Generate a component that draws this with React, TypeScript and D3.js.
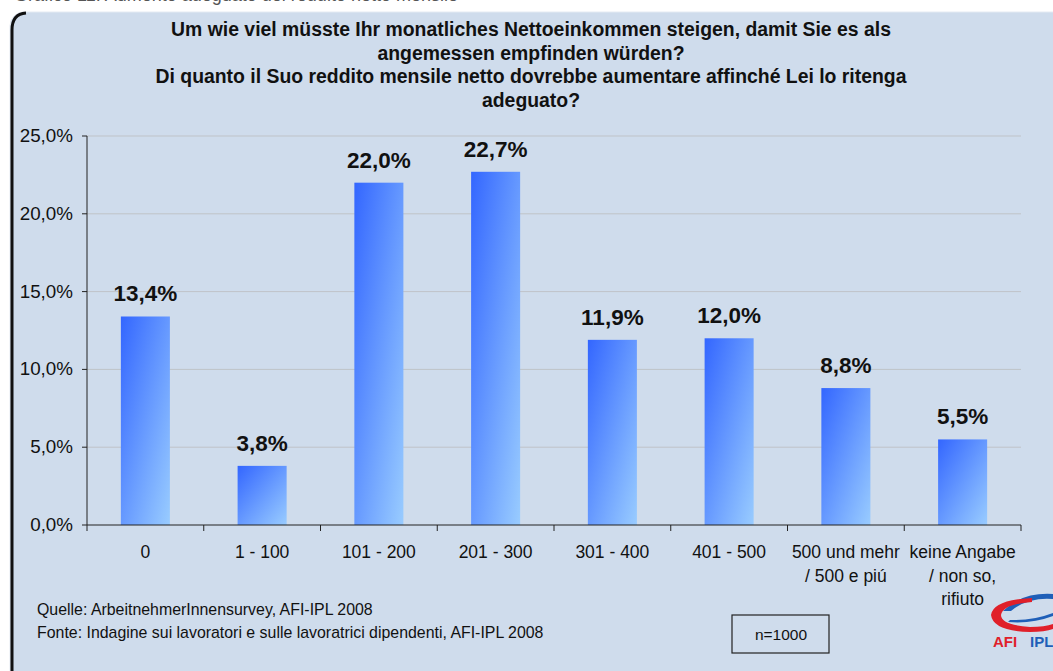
import React from "react";
import * as d3 from "d3";

// chart values
const categories = [
  ["0"],
  ["1 - 100"],
  ["101 - 200"],
  ["201 - 300"],
  ["301 - 400"],
  ["401 - 500"],
  ["500 und mehr", "/ 500 e piú"],
  ["keine Angabe", "/ non so,", "rifiuto"],
];
const values = [13.4, 3.8, 22.0, 22.7, 11.9, 12.0, 8.8, 5.5];
const yTicks = [0, 5, 10, 15, 20, 25];

const titleLines = [
  "Um wie viel müsste Ihr monatliches Nettoeinkommen steigen, damit Sie es als",
  "angemessen empfinden würden?",
  "Di quanto il Suo reddito mensile netto dovrebbe aumentare affinché Lei lo ritenga",
  "adeguato?",
];
const sourceLines = [
  "Quelle: ArbeitnehmerInnensurvey, AFI-IPL 2008",
  "Fonte: Indagine sui lavoratori e sulle lavoratrici dipendenti, AFI-IPL 2008",
];
const sampleNote = "n=1000";

const fmt = (v: number) => v.toFixed(1).replace(".", ",") + "%";

export default function App() {
  const W = 1053;
  const H = 671;
  const left = 87;
  const right = 1021;
  const top = 136;
  const bottom = 525;

  const x = d3
    .scaleBand<number>()
    .domain(d3.range(categories.length))
    .range([left, right])
    .paddingInner(0.58)
    .paddingOuter(0.29);
  const y = d3.scaleLinear().domain([0, 25]).range([bottom, top]);
  const step = (right - left) / categories.length;

  const font = "Arial, 'Liberation Sans', sans-serif";

  return (
    <div style={{ position: "absolute", left: 0, top: 0, width: W, height: H, overflow: "hidden" }}>
      <svg width={W} height={H} style={{ display: "block", fontFamily: font }}>
        <defs>
          <linearGradient id="barGrad" x1="0" y1="0" x2="1" y2="1">
            <stop offset="0" stopColor="#3366ff" />
            <stop offset="1" stopColor="#99ccff" />
          </linearGradient>
        </defs>
        <rect width={W} height={H} fill="#ffffff" />
        {/* cropped heading from the page above */}
        <text x={14} y={1} fontSize={18} fill="#555">
          Grafico 11: Aumento adeguato del reddito netto mensile
        </text>
        {/* panel */}
        <rect x={10} y={12} width={W + 20} height={H + 20} rx={14} fill="#cfdcec" stroke="#e4eaf2" strokeWidth={1} />
        <path d="M 12 671 L 12 30 Q 12 14 26 13" fill="none" stroke="#111" strokeWidth={3} />

        {/* title */}
        {titleLines.map((t, i) => (
          <text key={i} x={531} y={36 + i * 23.5} textAnchor="middle" fontSize={19.4} fontWeight="bold" fill="#111">
            {t}
          </text>
        ))}

        {/* grid and y axis */}
        {yTicks.map((t) => (
          <g key={t}>
            {t > 0 && <line x1={left} x2={right} y1={y(t)} y2={y(t)} stroke="#bfc3c8" strokeWidth={1} />}
            <line x1={left - 5} x2={left} y1={y(t)} y2={y(t)} stroke="#222" />
            <text x={73} y={y(t) + 6} textAnchor="end" fontSize={18.8} fill="#111">
              {fmt(t)}
            </text>
          </g>
        ))}
        <line x1={left} x2={left} y1={top} y2={bottom} stroke="#222" />

        {/* bars */}
        {values.map((v, i) => (
          <g key={i}>
            <rect x={x(i)} y={y(v)} width={x.bandwidth()} height={bottom - y(v)} fill="url(#barGrad)" />
            <text
              x={(x(i) as number) + x.bandwidth() / 2}
              y={y(v) - 15}
              textAnchor="middle"
              fontSize={22.5}
              fontWeight="bold"
              fill="#111"
            >
              {fmt(v)}
            </text>
          </g>
        ))}

        {/* x axis */}
        <line x1={left} x2={right} y1={bottom} y2={bottom} stroke="#222" />
        {d3.range(categories.length + 1).map((i) => (
          <line key={i} x1={left + i * step} x2={left + i * step} y1={bottom} y2={bottom + 6} stroke="#222" />
        ))}
        {categories.map((lines, i) => (
          <text key={i} textAnchor="middle" fontSize={17.5} fill="#111">
            {lines.map((l, j) => (
              <tspan key={j} x={(x(i) as number) + x.bandwidth() / 2} y={558 + j * 23.5}>
                {l}
              </tspan>
            ))}
          </text>
        ))}

        {/* source */}
        {sourceLines.map((s, i) => (
          <text key={i} x={37} y={615 + i * 23} fontSize={15.9} fill="#111">
            {s}
          </text>
        ))}

        {/* sample box */}
        <rect x={732} y={615} width={97} height={38} fill="none" stroke="#222" strokeWidth={1.2} />
        <text x={781} y={640} textAnchor="middle" fontSize={15.5} fill="#111">
          {sampleNote}
        </text>

        {/* logo */}
        <g>
          <path d="M 1003 611 Q 1022 592 1053 594 L 1053 599 Q 1028 597 1011 611 Z" fill="#1f5fb8" />
          <path d="M 1032 598 Q 993 600 991 615 Q 993 631 1030 632 Q 1045 632 1053 629 L 1053 624 Q 1045 627 1030 627 Q 1001 625 1001 615 Q 1003 604 1032 602 Z" fill="#e0202a" />
          <path d="M 1008 622 Q 1032 624 1053 616 L 1053 613 Q 1032 621 1010 620 Z" fill="#1f5fb8" />
          <text x={993} y={647} fontSize={15} fontWeight="bold" fill="#e0202a" fontFamily="'Arial Black', Arial, sans-serif">
            AFI
          </text>
          <text x={1030} y={647} fontSize={15} fontWeight="bold" fill="#1f5fb8" fontFamily="'Arial Black', Arial, sans-serif">
            IPL
          </text>
        </g>
      </svg>
    </div>
  );
}
